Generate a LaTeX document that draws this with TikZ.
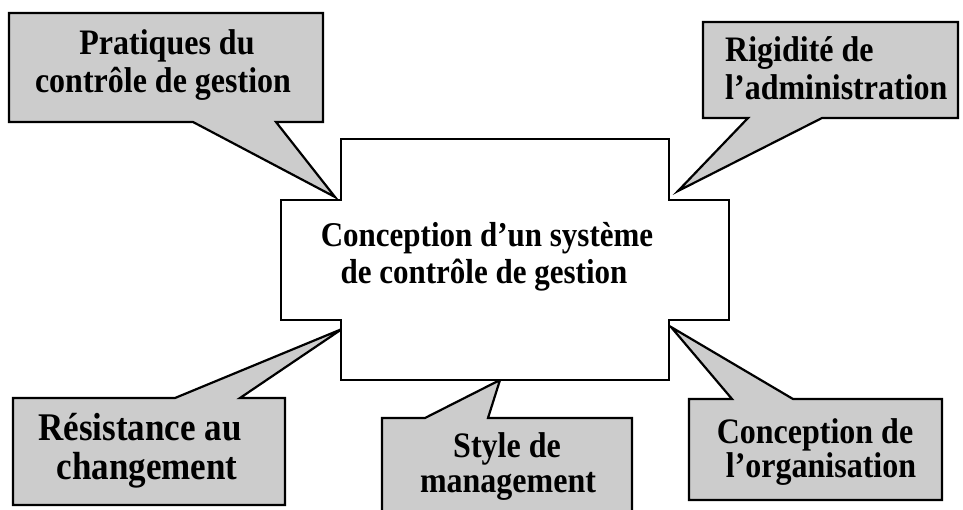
\documentclass[tikz,border=0pt]{standalone}
\usepackage{graphicx}
\usepackage{fontspec}
\setmainfont{Liberation Serif}
\newcommand{\tallText}[1]{\scalebox{1}[1.12]{#1}}
\begin{document}
\begin{tikzpicture}[x=1pt,y=-1pt,
  callout/.style={draw=black,line width=2.2pt,line join=miter,fill=black!20},
  centrebox/.style={draw=black,line width=1.8pt,fill=white},
  lbl/.style={inner sep=0pt,anchor=base,font=\fontsize{32}{38}\selectfont\bfseries},
  biglbl/.style={lbl,font=\fontsize{35}{38}\selectfont\bfseries},
  midlbl/.style={lbl,font=\fontsize{31}{37}\selectfont\bfseries}]
\useasboundingbox (0,0) rectangle (963,510);
\clip (0,0) rectangle (963,510);
% tips of the callouts
\coordinate (tipPr) at (335,197);
\coordinate (tipRi) at (678,191);
\coordinate (tipRe) at (342,329);
\coordinate (tipSt) at (500,380);
\coordinate (tipCo) at (671,327);
% callouts
\draw[callout] (9,13) -- (323,13) -- (323,122) -- (276,122) -- (tipPr) -- (193,122) -- (9,122) -- cycle;
\draw[callout] (703,22) -- (958,22) -- (958,118) -- (822,118) -- (tipRi) -- (748,118) -- (703,118) -- cycle;
\draw[callout] (13,398) -- (175,398) -- (tipRe) -- (240,398) -- (285,398) -- (285,505) -- (13,505) -- cycle;
\draw[callout] (382,418) -- (425,418) -- (tipSt) -- (488,418) -- (632,418) -- (632,530) -- (382,530) -- cycle;
\draw[callout] (689,399) -- (732,399) -- (tipCo) -- (793,399) -- (942,399) -- (942,500) -- (689,500) -- cycle;
% central cross-shaped box
\draw[centrebox] (341,139) -- (669,139) -- (669,200) -- (729,200) -- (729,320) -- (669,320) -- (669,380)
  -- (341,380) -- (341,320) -- (281,320) -- (281,200) -- (341,200) -- cycle;
% texts
\node[midlbl] (c1) at (487,247) {\tallText{Conception d’un système}};
\node[midlbl] (c2) at (484,284) {\tallText{de contrôle de gestion}};
\node[lbl] (p1) at (167,55) {\tallText{Pratiques du}};
\node[lbl] (p2) at (163,93) {\tallText{contrôle de gestion}};
\node[lbl,anchor=base west] (r1) at (725,62) {\tallText{Rigidité de}};
\node[lbl,anchor=base west] (r2) at (725,100) {\tallText{l’administration}};
\node[biglbl] (e1) at (140,440) {\tallText{Résistance au}};
\node[biglbl] (e2) at (147,479) {\tallText{changement}};
\node[lbl] (s1) at (507,457) {\tallText{Style de}};
\node[lbl] (s2) at (508,492) {\tallText{management}};
\node[lbl] (o1) at (815,443) {\tallText{Conception de}};
\node[lbl] (o2) at (821,477) {\tallText{l’organisation}};
\end{tikzpicture}
\end{document}
